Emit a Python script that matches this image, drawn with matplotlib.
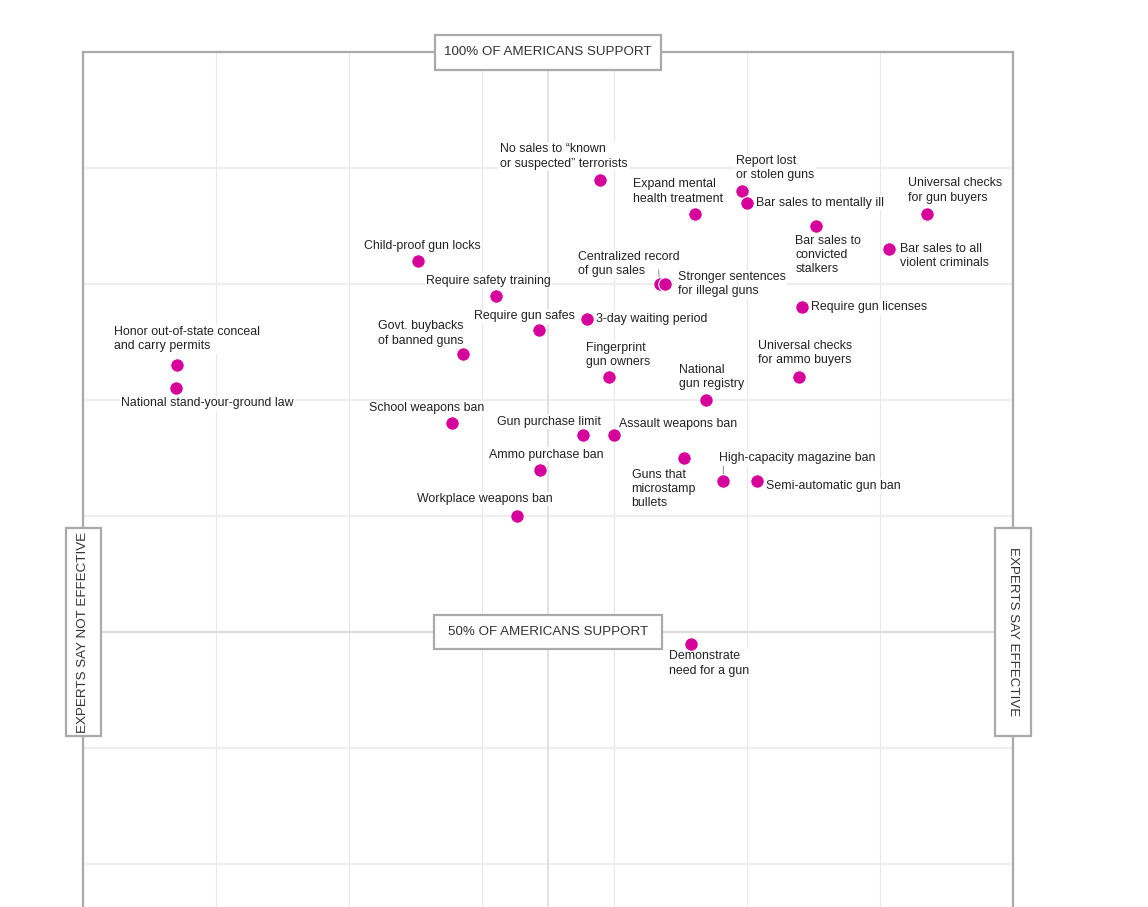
import matplotlib
matplotlib.use('Agg')
import matplotlib.pyplot as plt
from matplotlib.patches import Rectangle

plt.rcParams['font.family'] = ['Liberation Sans', 'DejaVu Sans']

# policy, expert effectiveness score (0 = not effective .. 7 = effective), % of Americans support
policies = [
    "No sales to \u201cknown\nor suspected\u201d terrorists",
    "Expand mental\nhealth treatment",
    "Report lost\nor stolen guns",
    "Bar sales to mentally ill",
    "Universal checks\nfor gun buyers",
    "Bar sales to\nconvicted\nstalkers",
    "Bar sales to all\nviolent criminals",
    "Child-proof gun locks",
    "Require safety training",
    "Centralized record\nof gun sales",
    "Stronger sentences\nfor illegal guns",
    "Require gun licenses",
    "Require gun safes",
    "3-day waiting period",
    "Govt. buybacks\nof banned guns",
    "Honor out-of-state conceal\nand carry permits",
    "National stand-your-ground law",
    "Fingerprint\ngun owners",
    "Universal checks\nfor ammo buyers",
    "National\ngun registry",
    "School weapons ban",
    "Gun purchase limit",
    "Assault weapons ban",
    "Guns that\nmicrostamp\nbullets",
    "Ammo purchase ban",
    "High-capacity magazine ban",
    "Semi-automatic gun ban",
    "Workplace weapons ban",
    "Demonstrate\nneed for a gun",
]
expert_score = [3.89, 4.61, 4.96, 5.00, 6.35, 5.52, 6.07, 2.52, 3.11, 4.34,
                4.38, 5.41, 3.43, 3.79, 2.86, 0.71, 0.70, 3.96, 5.39, 4.69,
                2.78, 3.76, 4.00, 4.52, 3.44, 4.82, 5.07, 3.27, 4.58]
support = [89, 86, 88, 87, 86, 85, 83, 82, 79, 80,
           80, 78, 76, 77, 74, 73, 71, 72, 72, 70,
           68, 67, 67, 65, 64, 63, 63, 60, 49]

# label offsets from the dot, in pixels (left edge of text, vertical centre of text block)
label_offsets = [(-100, 23), (-62, 23), (-6, 23), (9, 0), (-19, 24),
                 (-21, -29), (11, -7), (-54, 15), (-70, 15), (-82, 20),
                 (13, 0), (9, 0), (-65, 14), (9, 0), (-85, 20),
                 (-63, 26), (-55, -15), (-23, 22), (-41, 24), (-27, 23),
                 (-83, 15), (-86, 13), (5, 11), (-52, -31), (-51, 15),
                 (-4, 23), (9, -5), (-100, 17), (-22, -20)]
leaders = {"Centralized record\nof gun sales": (-1, 14),
           "High-capacity magazine ban": (0, 15)}

W, H = 1148, 907
fig = plt.figure(figsize=(W / 100, H / 100), dpi=100)
ax = fig.add_axes([83 / W, 0, 930 / W, 855 / H])
ax.set_xlim(0, 7)
ax.set_ylim(100 - 855 / 11.6, 100)

for gx in range(1, 7):
    ax.axvline(gx, color='#e8e8e8', lw=0.8, zorder=0)
for gy in [90, 80, 70, 60, 40, 30]:
    ax.axhline(gy, color='#efefef', lw=1.6, zorder=0)
ax.axvline(3.5, color='#dddddd', lw=1.2, zorder=0)
ax.axhline(50, color='#dddddd', lw=1.6, zorder=0)

for side in ['top', 'left', 'right']:
    ax.spines[side].set_color('#aaaaaa')
    ax.spines[side].set_linewidth(1.6)
ax.spines['bottom'].set_visible(False)
ax.set_xticks([])
ax.set_yticks([])

ax.scatter(expert_score, support, s=95, c='#d6009a', edgecolors='white',
           linewidths=0.8, zorder=4, clip_on=False)

for name, x, y, (dx, dy) in zip(policies, expert_score, support, label_offsets):
    ax.annotate(name, (x, y), xytext=(dx, dy), textcoords='offset pixels',
                ha='left', va='center', fontsize=8.9, color='#222222',
                linespacing=1.25, zorder=3,
                bbox=dict(fc='white', ec='none', pad=1.0))
    if name in leaders:
        ax.annotate('', (x, y), xytext=leaders[name], textcoords='offset pixels',
                    arrowprops=dict(arrowstyle='-', color='#999999', lw=0.8,
                                    shrinkA=0, shrinkB=4.5), zorder=3)


def boxed(x, y, text, w, h, rotation=0):
    cx, cy = ax.transData.transform((x, y))
    fx, fy = fig.transFigure.inverted().transform((cx, cy))
    fig.add_artist(Rectangle((fx - w / 2 / W, fy - h / 2 / H), w / W, h / H,
                             transform=fig.transFigure, fc='white',
                             ec='#aaaaaa', lw=1.6, zorder=5))
    fig.text(fx, fy, text, ha='center', va='center', rotation=rotation,
             rotation_mode='anchor', fontsize=9.6, color='#333333', zorder=6)


boxed(3.5, 100, "100% OF AMERICANS SUPPORT", 226, 35)
boxed(3.5, 50, "50% OF AMERICANS SUPPORT", 228, 34)
boxed(0, 50, "EXPERTS SAY NOT EFFECTIVE", 35, 208, rotation=90)
boxed(7, 50, "EXPERTS SAY EFFECTIVE", 36, 208, rotation=-90)

fig.savefig('out.png', dpi=100)
